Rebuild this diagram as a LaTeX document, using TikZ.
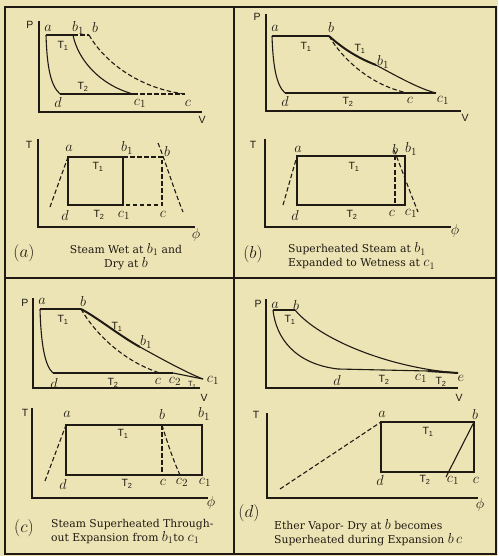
\documentclass[tikz,border=0pt]{standalone}
\usepackage{fontspec}
\setmainfont{DejaVu Serif}
\setsansfont{Liberation Sans}
\usetikzlibrary{positioning}
\definecolor{paper}{RGB}{236,228,180}
\definecolor{ink}{RGB}{32,26,20}
\newcommand{\capsym}[1]{{\fontsize{14}{14}\selectfont$#1$}}

\begin{document}
\begin{tikzpicture}[
    x=1pt, y=-1pt,
    frame/.style={draw=ink, line width=1.7pt},
    axis/.style={draw=ink, line width=1.3pt},
    cyc/.style={draw=ink, line width=2pt},
    curve/.style={draw=ink, line width=1.1pt},
    sat/.style={draw=ink, line width=1.1pt, dash pattern=on 4.5pt off 2.5pt},
    pt/.style={text=ink, inner sep=0pt, font=\fontsize{15}{15}\selectfont},
    sym/.style={text=ink, inner sep=0pt, font=\sffamily\fontsize{10.5}{10.5}\selectfont},
    tag/.style={text=ink, inner sep=0pt, font=\fontsize{17}{17}\selectfont},
    capt/.style={text=ink, inner sep=0pt, font=\fontsize{10.8}{14}\selectfont}
]
\fill[paper] (0,0) rectangle (498,556);
\useasboundingbox (0,0) rectangle (498,556);
% frame and dividers
\draw[frame] (5,7) rectangle (496,554);
\draw[frame] (234,7) -- (234,554);
\draw[frame] (5,278) -- (496,278);

% ---------- (a) P-V ----------
\draw[axis] (39,21) -- (39,112) -- (202,112);
\coordinate (AP-a)  at (46,35);
\coordinate (AP-b1) at (73,35);
\coordinate (AP-b)  at (89,35);
\coordinate (AP-d)  at (60,94);
\coordinate (AP-c1) at (133,94);
\coordinate (AP-c)  at (185,94);
\draw[cyc] (AP-a) -- (AP-b1);
\draw[cyc] (AP-d) -- (AP-c1);
\draw[sat] (AP-b1) -- (AP-b);
\draw[sat] (AP-c1) -- (AP-c);
\draw[curve] (AP-a) .. controls (47,65) and (50,85) .. (AP-d);
\draw[curve] (AP-b1) .. controls (78,60) and (100,85) .. (AP-c1);
\draw[sat] (AP-b) .. controls (102,58) and (135,88) .. (AP-c);
\foreach \n/\x/\y/\t in {a/48/28/a, b1/78/28/b_1, b/95/28/b, d/58/103/d, c1/140/103/c_1, c/188/103/c}
   \node[pt] (APl-\n) at (\x,\y) {$\t$};
\foreach \n/\x/\y/\t in {P/30/25/P, V/202/120/V, T1/63/46/T\textsubscript{1}, T2/83/87/T\textsubscript{2}}
   \node[sym] (APs-\n) at (\x,\y) {\t};

% ---------- (a) T-phi ----------
\draw[axis] (38,139) -- (38,227) -- (195,227);
\coordinate (AT-a)  at (68,157);
\coordinate (AT-b1) at (123,157);
\coordinate (AT-b)  at (162,157);
\coordinate (AT-d)  at (68,205);
\coordinate (AT-c1) at (123,205);
\coordinate (AT-c)  at (162,205);
\coordinate (AT-l)  at (50,207);
\coordinate (AT-r1) at (158,143);
\coordinate (AT-r2) at (183,212);
\draw[cyc] (AT-a) -- (AT-b1) -- (AT-c1) -- (AT-d) -- cycle;
\draw[sat] (AT-b1) -- (AT-b) -- (AT-c) -- (AT-c1);
\draw[sat] (AT-l) -- (AT-a);
\draw[sat] (AT-r1) .. controls (165,160) and (174,190) .. (AT-r2);
\foreach \n/\x/\y/\t in {a/69/148/a, b1/127/148/b_1, b/167/152/b, d/65/215/d, c1/124/215/c_1, c/163/214/c, phi/196/235/\phi}
   \node[pt] (ATl-\n) at (\x,\y) {$\t$};
\foreach \n/\x/\y/\t in {T/29/145/T, T1/98/167/T\textsubscript{1}, T2/99/215/T\textsubscript{2}}
   \node[sym] (ATs-\n) at (\x,\y) {\t};
\node[tag] (tag-a) at (24,253) {$(a)$};
\node[capt, align=center] (cap-a) at (126,256.5) {Steam Wet at \capsym{b_1} and\\Dry at \capsym{b}};

% ---------- (b) P-V ----------
\draw[axis] (266,14) -- (266,111) -- (461,111);
\coordinate (BP-a)  at (272,36);
\coordinate (BP-b)  at (329,36);
\coordinate (BP-b1) at (376,65);
\coordinate (BP-d)  at (285,93);
\coordinate (BP-c)  at (408,93);
\coordinate (BP-c1) at (436,93);
\draw[cyc] (BP-a) -- (BP-b);
\draw[cyc] (BP-d) -- (BP-c1);
\draw[cyc] (BP-b) .. controls (340,46) and (355,57) .. (BP-b1);
\draw[curve] (BP-b1) .. controls (400,78) and (420,89) .. (BP-c1);
\draw[curve] (BP-a) .. controls (273,65) and (276,85) .. (BP-d);
\draw[sat] (BP-b) .. controls (343,60) and (372,86) .. (BP-c);
\foreach \n/\x/\y/\t in {a/275/28/a, b/331/28/b, b1/383/62/b_1, d/285/102/d, c/410/100/c, c1/443/100/c_1}
   \node[pt] (BPl-\n) at (\x,\y) {$\t$};
\foreach \n/\x/\y/\t in {P/257/17/P, V/465/118/V, T1/306/47/T\textsubscript{1}, T1b/360/49/T\textsubscript{1}, T2/348/102/T\textsubscript{2}}
   \node[sym] (BPs-\n) at (\x,\y) {\t};

% ---------- (b) T-phi ----------
\draw[axis] (265,139) -- (265,227) -- (451,227);
\coordinate (BT-a)  at (297,156);
\coordinate (BT-b)  at (395,156);
\coordinate (BT-b1) at (405,156);
\coordinate (BT-d)  at (297,205);
\coordinate (BT-c)  at (395,205);
\coordinate (BT-c1) at (405,205);
\coordinate (BT-l)  at (283,205);
\coordinate (BT-r1) at (394,150);
\coordinate (BT-r2) at (418,212);
\draw[cyc] (BT-a) -- (BT-b1) -- (BT-c1) -- (BT-d) -- cycle;
\draw[sat] (BT-b) -- (BT-c);
\draw[sat] (BT-l) -- (BT-a);
\draw[sat] (BT-r1) .. controls (400,165) and (410,192) .. (BT-r2);
\foreach \n/\x/\y/\t in {a/298/149/a, b/395/149/b, b1/411/149/b_1, d/295/215/d, c/392/213/c, c1/411/213/c_1, phi/455/231/\phi}
   \node[pt] (BTl-\n) at (\x,\y) {$\t$};
\foreach \n/\x/\y/\t in {T/253/145/T, T1/354/167/T\textsubscript{1}, T2/352/215/T\textsubscript{2}}
   \node[sym] (BTs-\n) at (\x,\y) {\t};
\node[tag] (tag-b) at (253,254) {$(b)$};
\node[capt, align=left, anchor=west] (cap-b) at (288,256) {Superheated Steam at \capsym{b_1}\\Expanded to Wetness at \capsym{c_1}};

% ---------- (c) P-V ----------
\draw[axis] (33,298) -- (33,388) -- (200,388);
\coordinate (CP-a)  at (40,309);
\coordinate (CP-b)  at (81,309);
\coordinate (CP-b1) at (140,347);
\coordinate (CP-d)  at (53,373);
\coordinate (CP-c)  at (160,373);
\coordinate (CP-c2) at (173,373);
\coordinate (CP-c1) at (203,379);
\draw[cyc] (CP-a) -- (CP-b);
\draw[cyc] (CP-d) -- (CP-c2);
\draw[curve] (CP-c2) -- (CP-c1);
\draw[cyc] (CP-b) .. controls (98,318) and (120,336) .. (CP-b1);
\draw[curve] (CP-b1) .. controls (160,358) and (185,372) .. (CP-c1);
\draw[curve] (CP-a) .. controls (41,345) and (45,366) .. (CP-d);
\draw[sat] (CP-b) .. controls (96,335) and (125,362) .. (CP-c);
\foreach \n/\x/\y/\t in {a/42/301/a, b/83/301/b, b1/146/342/b_1, d/54/383/d, c/158/381/c, c2/175/381/c_2, c1/213/380/c_1}
   \node[pt] (CPl-\n) at (\x,\y) {$\t$};
\foreach \n/\x/\y/\t in {P/25/303/P, V/204/398/V, T1/63/320/T\textsubscript{1}, T1b/117/327/T\textsubscript{1}, T2/113/383/T\textsubscript{2}}
   \node[sym] (CPs-\n) at (\x,\y) {\t};
\node[sym, font=\sffamily\fontsize{7.5}{7.5}\selectfont] (CPs-T2b) at (192,385) {T\textsubscript{2}};

% ---------- (c) T-phi ----------
\draw[axis] (32,408) -- (32,498) -- (208,498);
\coordinate (CT-a)  at (66,425);
\coordinate (CT-b)  at (162,425);
\coordinate (CT-b1) at (202,425);
\coordinate (CT-d)  at (66,475);
\coordinate (CT-c)  at (162,475);
\coordinate (CT-c2) at (180,475);
\coordinate (CT-c1) at (202,475);
\coordinate (CT-l)  at (45,481);
\draw[cyc] (CT-a) -- (CT-b1) -- (CT-c1) -- (CT-d) -- cycle;
\draw[sat] (CT-b) -- (CT-c);
\draw[sat] (CT-b) .. controls (168,445) and (174,462) .. (CT-c2);
\draw[sat] (CT-l) -- (CT-a);
\foreach \n/\x/\y/\t in {a/67/414/a, b/162/414/b, b1/204/414/b_1, d/63/484/d, c/163/482/c, c2/182/482/c_2, c1/205/482/c_1, phi/211/503/\phi}
   \node[pt] (CTl-\n) at (\x,\y) {$\t$};
\foreach \n/\x/\y/\t in {T/25/413/T, T1/123/434/T\textsubscript{1}, T2/127/484/T\textsubscript{2}}
   \node[sym] (CTs-\n) at (\x,\y) {\t};
\node[tag] (tag-c) at (24,528) {$(c)$};
\node[capt, align=left, anchor=west] (cap-c) at (51,531.5) {Steam Superheated Through-\\out Expansion from \capsym{b_1}to \capsym{c_1}};

% ---------- (d) P-V ----------
\draw[axis] (266,299) -- (266,388) -- (458,388);
\coordinate (DP-a)  at (273,310);
\coordinate (DP-b)  at (295,310);
\coordinate (DP-d)  at (338,369);
\coordinate (DP-c1) at (428,371);
\coordinate (DP-e)  at (458,373);
\draw[cyc] (DP-a) -- (DP-b);
\draw[curve] (DP-d) -- (DP-c1);
\draw[cyc] (DP-c1) -- (DP-e);
\draw[curve] (DP-a) .. controls (276,338) and (295,364) .. (DP-d);
\draw[curve] (DP-b) .. controls (320,340) and (390,368) .. (DP-e);
\foreach \n/\x/\y/\t in {a/275/305/a, b/296/305/b, d/337/380/d, c1/421/378/c_1, e/461/378/e}
   \node[pt] (DPl-\n) at (\x,\y) {$\t$};
\foreach \n/\x/\y/\t in {P/258/304/P, V/459/398/V, T1/290/320/T\textsubscript{1}, T2/384/380/T\textsubscript{2}, T2b/441/382/T\textsubscript{2}}
   \node[sym] (DPs-\n) at (\x,\y) {\t};

% ---------- (d) T-phi ----------
\draw[axis] (267,413) -- (267,498) -- (478,498);
\coordinate (DT-a)  at (381,422);
\coordinate (DT-b)  at (474,422);
\coordinate (DT-d)  at (381,472);
\coordinate (DT-c)  at (474,472);
\coordinate (DT-c1) at (446,477);
\coordinate (DT-l)  at (280,489);
\draw[cyc] (DT-a) -- (DT-b) -- (DT-c) -- (DT-d) -- cycle;
\draw[curve] (DT-b) -- (DT-c1);
\draw[sat] (DT-l) -- (DT-a);
\foreach \n/\x/\y/\t in {a/382/414/a, b/475/414/b, d/380/480/d, c1/453/480/c_1, c/476/480/c, phi/480/505/\phi}
   \node[pt] (DTl-\n) at (\x,\y) {$\t$};
\foreach \n/\x/\y/\t in {T/256/415/T, T1/428/432/T\textsubscript{1}, T2/425/480/T\textsubscript{2}}
   \node[sym] (DTs-\n) at (\x,\y) {\t};
\node[tag] (tag-d) at (249,513) {$(d)$};
\node[capt, align=left, anchor=west] (cap-d) at (274,532.5) {Ether Vapor- Dry at \capsym{b} becomes\\Superheated during Expansion \capsym{b\,c}};
\end{tikzpicture}
\end{document}
